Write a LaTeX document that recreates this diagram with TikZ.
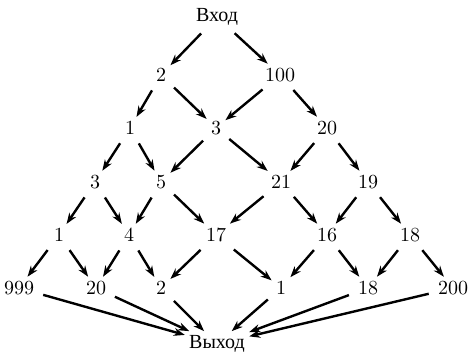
\documentclass[tikz,border=0pt]{standalone}
\usepackage{fontspec}
\newfontfamily\cyr{Liberation Serif}
\usetikzlibrary{arrows.meta}
\begin{document}
\begin{tikzpicture}[x=0.5pt,y=-0.5pt, every node/.style={inner sep=2pt},
    arr/.style={-{Stealth[length=5.5pt,width=4pt]}, line width=1.2pt, shorten <=2.5pt}]
\useasboundingbox (0,0) rectangle (469,354);

% Vhod
\node (in) at (217,17) {\cyr Вход};

% Ryad 1
\node (a1) at (161,75) {2};
\node (a2) at (280,75) {100};

% Ryad 2
\node (b1) at (130,128) {1};
\node (b2) at (216,128) {3};
\node (b3) at (327,128) {20};

% Ryad 3
\node (c1) at (95,182) {3};
\node (c2) at (161,182) {5};
\node (c3) at (281,182) {21};
\node (c4) at (368,182) {19};

% Ryad 4
\node (d1) at (59,235) {1};
\node (d2) at (129,235) {4};
\node (d3) at (216,235) {17};
\node (d4) at (327,235) {16};
\node (d5) at (410,235) {18};

% Ryad 5
\node (e1) at (19,288) {999};
\node (e2) at (96,288) {20};
\node (e3) at (161,288) {2};
\node (e4) at (281,288) {1};
\node (e5) at (368,288) {18};
\node (e6) at (453,288) {200};

% Vyhod
\node (out) at (217,344) {\cyr Выход};

% Strelki
\draw [arr] (in) -- (a1);
\draw [arr] (in) -- (a2);
\draw [arr] (a1) -- (b1);
\draw [arr] (a1) -- (b2);
\draw [arr] (a2) -- (b2);
\draw [arr] (a2) -- (b3);
\draw [arr] (b1) -- (c1);
\draw [arr] (b1) -- (c2);
\draw [arr] (b2) -- (c2);
\draw [arr] (b2) -- (c3);
\draw [arr] (b3) -- (c3);
\draw [arr] (b3) -- (c4);
\draw [arr] (c1) -- (d1);
\draw [arr] (c1) -- (d2);
\draw [arr] (c2) -- (d2);
\draw [arr] (c2) -- (d3);
\draw [arr] (c3) -- (d3);
\draw [arr] (c3) -- (d4);
\draw [arr] (c4) -- (d4);
\draw [arr] (c4) -- (d5);
\draw [arr] (d1) -- (e1);
\draw [arr] (d1) -- (e2);
\draw [arr] (d2) -- (e2);
\draw [arr] (d2) -- (e3);
\draw [arr] (d3) -- (e3);
\draw [arr] (d3) -- (e4);
\draw [arr] (d4) -- (e4);
\draw [arr] (d4) -- (e5);
\draw [arr] (d5) -- (e5);
\draw [arr] (d5) -- (e6);

% K vyhodu
\draw [arr] (e1) -- (out);
\draw [arr] (e2) -- (out);
\draw [arr] (e3) -- (out);
\draw [arr] (e4) -- (out);
\draw [arr] (e5) -- (out);
\draw [arr] (e6) -- (out);
\end{tikzpicture}
\end{document}
